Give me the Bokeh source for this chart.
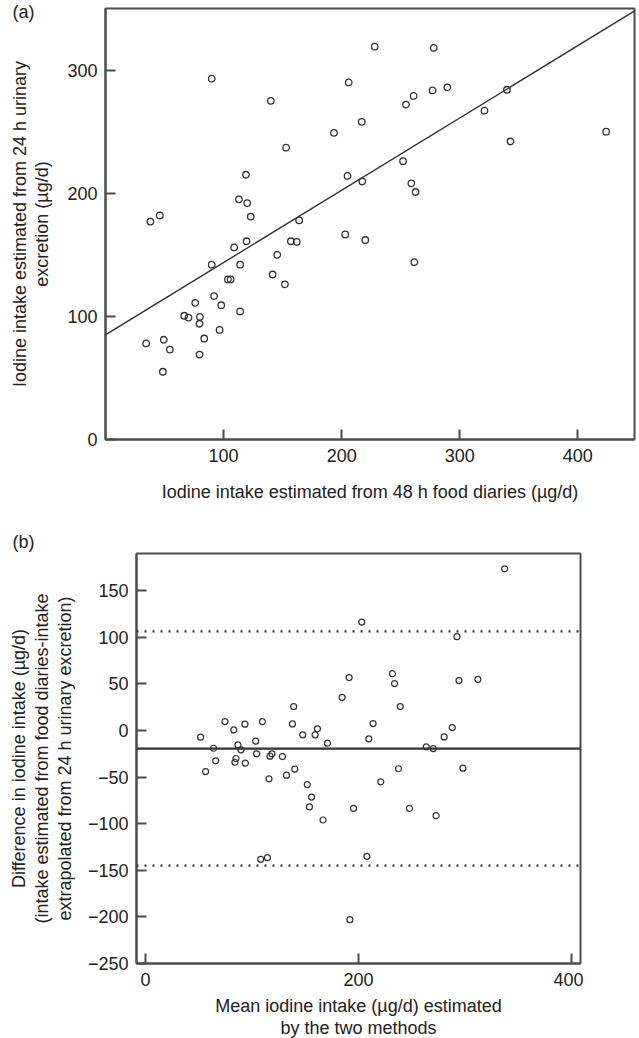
from bokeh.plotting import figure
from bokeh.models import Range1d, FixedTicker, Slope, Span, Title
from bokeh.embed import file_html
from bokeh.resources import INLINE

# ---------------- Panel (a): diary vs urinary estimate ----------------
diary_intake = [90, 140, 153, 119, 113, 120, 123, 38, 46, 164,
                119.5, 157, 162, 109, 228, 278, 206, 261, 254.5, 277,
                289.5, 340, 321, 217, 193.5, 424, 343, 252, 205, 217.5,
                259, 262.7, 203, 220, 145.5, 90, 114, 141.5, 152, 103.7,
                106, 92, 76, 98, 114, 66.7, 70.3, 80, 79.7, 96.6,
                83.6, 49.4, 34.5, 54.5, 79.7, 48.6, 261.6]
urinary_intake = [293, 275, 237, 215, 195, 192, 181, 177, 182, 178,
                  161, 161, 160.5, 156, 319, 318, 290, 279, 272, 283.5,
                  286, 284, 267, 258, 249, 250, 242, 226, 214, 209.5,
                  208, 201, 166.5, 162, 150, 142, 142, 134, 126, 130,
                  130, 116.5, 111, 109, 104, 100.5, 99, 99.5, 94, 89,
                  82, 81, 78, 73, 69, 55, 144]
reg_intercept = 85.0
reg_slope = 0.587
a_x_ticks = [100, 200, 300, 400]
a_y_ticks = [0, 100, 200, 300]

# ---------------- Panel (b): Bland-Altman ----------------
mean_intake = [51.7, 56.4, 64, 65.9, 74.6, 83, 93.4, 86.8, 89.7, 85,
               84, 93.8, 103.5, 104.4, 109.8, 117, 118.8, 116, 128.6, 132.4,
               140.2, 138, 139.2, 147.7, 161.5, 152, 156, 154, 337.4, 203.2,
               292.6, 191.3, 184.7, 232, 234, 239.3, 294.5, 312.3, 213.8, 209.8,
               159.3, 171, 288.2, 280.6, 263.8, 270.3, 237.7, 298.2, 221, 195.4,
               248, 166.8, 108.2, 114.5, 273, 208, 192]
diff_intake = [-7.1, -44, -19, -32.5, 9.6, 0.7, 6.8, -15.4, -20.7, -30,
               -34, -35, -11.4, -25, 9.6, -27.5, -25, -51.8, -27.9, -47.9,
               -41.4, 7.1, 25.7, -4.6, 1.8, -58, -71.4, -82, 173.6, 116.4,
               100.7, 56.8, 35.7, 61, 50.4, 25.7, 53.6, 55, 7.5, -8.9,
               -4.6, -13.6, 3.2, -6.8, -17.5, -19.3, -41, -40.4, -55, -83.6,
               -83.6, -96, -138.2, -136.4, -91.4, -135, -203]
mean_diff = -19.3
upper_loa = 106.4
lower_loa = -145.0
b_x_ticks = [0, 200, 400]
b_y_ticks = [-250, -200, -150, -100, -50, 0, 50, 100, 150]

FONT = "Liberation Sans"
FS = "18px"
INK = "#333333"
FRAME = "#4d4d4d"
TXT = "#222222"


def style(p):
    p.grid.visible = False
    p.outline_line_color = FRAME
    p.outline_line_width = 2
    p.background_fill_color = "white"
    p.border_fill_color = "white"
    for ax in p.axis:
        ax.axis_line_color = FRAME
        ax.axis_line_width = 2
        ax.major_tick_in = 10
        ax.major_tick_out = 0
        ax.major_tick_line_color = FRAME
        ax.major_tick_line_width = 2
        ax.minor_tick_line_color = None
        ax.major_label_text_font = FONT
        ax.major_label_text_font_size = FS
        ax.major_label_text_color = TXT
        ax.axis_label_text_font = FONT
        ax.axis_label_text_font_size = FS
        ax.axis_label_text_font_style = "normal"
        ax.axis_label_text_color = TXT
        ax.axis_label_text_line_height = 1.14


def panel_tag(p, text, offset, standoff):
    p.add_layout(Title(text=text, align="left", offset=offset,
                       standoff=standoff, text_font=FONT,
                       text_font_size=FS, text_font_style="normal",
                       text_color=TXT), "above")


# ---- figure (a)
p1 = figure(frame_width=529, frame_height=431,
            x_range=Range1d(0, 448), y_range=Range1d(0, 350),
            output_backend="svg", toolbar_location=None,
            min_border_left=105, min_border_right=3,
            min_border_top=8, min_border_bottom=81)
style(p1)
p1.xaxis.ticker = FixedTicker(ticks=a_x_ticks)
p1.yaxis.ticker = FixedTicker(ticks=a_y_ticks)
p1.xaxis.major_label_standoff = 9
p1.yaxis.major_label_standoff = 8
p1.xaxis.axis_label = "Iodine intake estimated from 48 h food diaries (\u00b5g/d)"
p1.yaxis.axis_label = "Iodine intake estimated from 24 h urinary\nexcretion (\u00b5g/d)"
p1.xaxis.axis_label_standoff = 17
p1.yaxis.axis_label_standoff = 12

p1.add_layout(Slope(gradient=reg_slope, y_intercept=reg_intercept,
                    line_color=INK, line_width=1.4))
p1.scatter(diary_intake, urinary_intake, marker="circle", size=6.5,
           fill_color=None, line_color=INK, line_width=1.3)
panel_tag(p1, "(a)", -93, -26)

# ---- figure (b)
p2 = figure(frame_width=444, frame_height=410,
            x_range=Range1d(-8.5, 408.7), y_range=Range1d(-250, 190),
            output_backend="svg", toolbar_location=None,
            min_border_left=136, min_border_right=3,
            min_border_top=33, min_border_bottom=10)
style(p2)
p2.xaxis.ticker = FixedTicker(ticks=b_x_ticks)
p2.yaxis.ticker = FixedTicker(ticks=b_y_ticks)
p2.yaxis.major_label_overrides = {t: (("\u2212" + str(abs(t))) if t < 0 else str(t))
                                  for t in b_y_ticks}
p2.xaxis.major_label_standoff = 9
p2.yaxis.major_label_standoff = 8
p2.xaxis.axis_label = "Mean iodine intake (\u00b5g/d) estimated\nby the two methods"
p2.yaxis.axis_label = ("Difference in iodine intake (\u00b5g/d)\n"
                       "(intake estimated from food diaries-intake\n"
                       "extrapolated from 24 h urinary excretion)")
p2.xaxis.axis_label_standoff = 7
p2.yaxis.axis_label_standoff = 10

for loc, dash in [(upper_loa, "2 6"), (lower_loa, "2 6"), (mean_diff, "solid")]:
    p2.add_layout(Span(location=loc, dimension="width", line_color=INK,
                       line_width=2.2, line_dash=dash))
p2.scatter(mean_intake, diff_intake, marker="circle", size=6,
           fill_color=None, line_color=INK, line_width=1.2)
panel_tag(p2, "(b)", -124, 4)

open("out.html", "w").write(file_html([p1, p2], INLINE))
